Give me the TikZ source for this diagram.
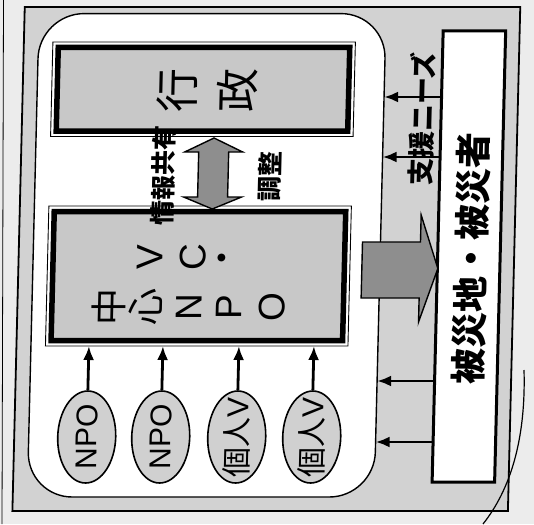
\documentclass[tikz,border=0pt]{standalone}
\usepackage{fontspec}
\setmainfont{Liberation Sans}
\newfontfamily\jp{Noto Sans CJK JP}
\usetikzlibrary{arrows.meta,shapes.geometric,calc}
\definecolor{pagebg}{HTML}{ECECEC}
\definecolor{band}{HTML}{D2D2D2}
\definecolor{boxfill}{HTML}{C8C8C8}
\definecolor{ellfill}{HTML}{D0D0D0}
\definecolor{arrowfill}{HTML}{8E8E8E}
\begin{document}
\begin{tikzpicture}[x=1pt,y=-1pt,
  dbox/.style={draw, line width=5.5pt, fill=boxfill, inner sep=0pt, outer sep=5.5pt},
  thinframe/.style={draw, line width=0.9pt},
  ell/.style={ellipse, draw, line width=1.6pt, fill=ellfill, minimum width=58pt, minimum height=92pt, inner sep=0pt},
  bigglyph/.style={rotate=90, inner sep=0pt, font=\jp\fontsize{44}{44}\selectfont},
  midglyph/.style={rotate=90, inner sep=0pt, font=\jp\fontsize{37}{37}\selectfont},
  latglyph/.style={rotate=90, inner sep=0pt, font=\fontsize{37}{37}\selectfont},
  elltext/.style={rotate=90, inner sep=0pt, font=\fontsize{30}{30}\selectfont},
  lbl/.style={rotate=90, inner sep=0pt, font=\jp\bfseries\fontsize{25}{25}\selectfont},
  arr/.style={line width=2.8pt, -{Latex[length=14pt,width=11pt]}},
  fat/.style={draw, line width=1.4pt, fill=arrowfill},
]
\useasboundingbox (0,0) rectangle (534,524);
\fill[pagebg] (0,0) rectangle (534,524);
\draw[line width=0.8pt] (3.5,0) -- (2,524);
\begin{scope}[shift={(6.42,0)}, xslant=0.0245, transform shape]
  \node[draw, line width=1.8pt, fill=band, minimum width=495.5pt, minimum height=504pt, inner sep=0pt, outer sep=0pt] (frame) at (266.25,259) {};
  \node[draw, line width=1.4pt, fill=white, rounded corners=45pt, minimum width=347pt, minimum height=483.4pt, inner sep=0pt, outer sep=0pt] (rr) at (206.5,255.3) {};
  % boxes
  \node[dbox, minimum width=291.5pt, minimum height=83.5pt] (gyo) at (198.75,89.25) {};
  \draw[thinframe] (gyo.north west) rectangle (gyo.south east);
  \node[dbox, minimum width=291.5pt, minimum height=129pt] (vc) at (198.75,276) {};
  \draw[thinframe] (vc.north west) rectangle (vc.south east);
  \node[draw, line width=3pt, fill=white, minimum width=62.5pt, minimum height=451pt, inner sep=0pt, outer sep=0pt] (hisai) at (468.75,256.5) {};
  % texts in boxes
  \node[bigglyph] (g1) at (173,90) {行};
  \node[bigglyph] (g2) at (233,90) {政};
  \node[midglyph] (c1) at (110,307) {中};
  \node[midglyph] (c2) at (147,307) {心};
  \node[latglyph] (c3) at (190,307) {N};
  \node[latglyph] (c4) at (230,307) {P};
  \node[latglyph] (c5) at (273,307) {O};
  \node[latglyph] (c6) at (150,257) {V};
  \node[latglyph] (c7) at (193,257) {C};
  \node[midglyph] (c8) at (227,258) {・};
  \node[rotate=90, inner sep=0pt, font=\jp\bfseries\fontsize{36}{36}\selectfont] (hisaitext) at (471,258) {被災地・被災者};
  % ellipses
  \node[ell] (e1) at (91,437) {};
  \node[ell] (e2) at (165,437) {};
  \node[ell] (e3) at (241,437) {};
  \node[ell] (e4) at (316,437) {};
  \node[elltext] (t1) at (e1) {NPO};
  \node[elltext] (t2) at (e2) {NPO};
  \node[elltext] (t3) at (e3) {{\jp 個人}V};
  \node[elltext] (t4) at (e4) {{\jp 個人}V};
  \foreach \e in {e1,e2,e3,e4} {
    \draw[arr] (\e.north) -- (\e.north |- vc.south);
  }
  % support arrows
  \coordinate (s1) at (0,97);
  \coordinate (s2) at (0,157);
  \coordinate (s3) at (0,381);
  \coordinate (s4) at (0,442);
  \foreach \s in {s1,s2,s3,s4} {
    \draw[arr] (hisai.west |- \s) -- (rr.east |- \s);
  }
  % labels
  \node[lbl] (info) at (161,175) {情報共有};
  \node[lbl] (adj) at (268,176.5) {調整};
  \node[lbl, font=\jp\bfseries\fontsize{27}{27}\selectfont] (needs) at (418.5,119) {支援ニーズ};
  % fat arrows
  \draw[fat] (211,138) -- (240,152) -- (226,152) -- (226,197) -- (240,197) -- (211,209)
     -- (182,197) -- (196,197) -- (196,152) -- (182,152) -- cycle;
  \draw[fat] (362,242) -- (420,242) -- (420,215) -- (438,268.5) -- (420,322) -- (420,298)
     -- (362,298) -- cycle;
\end{scope}
\draw[line width=1.2pt] (524,370) .. controls (526,440) and (510,490) .. (483,524);
\end{tikzpicture}
\end{document}
